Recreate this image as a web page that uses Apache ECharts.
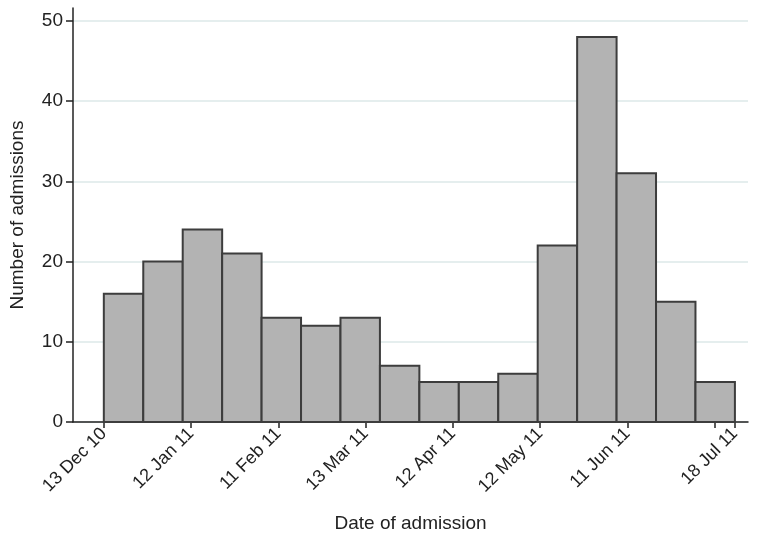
<!DOCTYPE html>
<html>
<head>
<meta charset="utf-8">
<script src="https://cdn.jsdelivr.net/npm/echarts@6/dist/echarts.min.js"></script>
<style>
html,body{margin:0;padding:0;background:#fff}
#main{width:757px;height:538px}
</style>
</head>
<body>
<div id="main"></div>
<script>
// admissions per bin, 16 bins from 13 Dec 10 to 18 Jul 11
var counts = [16, 20, 24, 21, 13, 12, 13, 7, 5, 5, 6, 22, 48, 31, 15, 5]
var startDay = 0
var binDays = 217 / 16
// days since 13 Dec 10
var labelDays = [0, 30, 60, 90, 120, 150, 180, 217]
var labelText = ["13 Dec 10", "12 Jan 11", "11 Feb 11", "13 Mar 11", "12 Apr 11", "12 May 11", "11 Jun 11", "18 Jul 11"]
var tickDays = [0, 30, 60, 90, 120, 150, 180, 210, 217]
var yTicks = [0, 10, 20, 30, 40, 50]

var bins = counts.map(function (c, i) { return [startDay + i * binDays, startDay + (i + 1) * binDays, c] })

var myChart = echarts.init(document.getElementById("main"))
var font = "Liberation Sans, Arial, sans-serif"
var option = {
    animation: false,
    grid: { left: 73, right: 9, top: 8, bottom: 116, containLabel: false, outerBoundsMode: 'none' },
    xAxis: {
        type: 'value',
        min: -10.6,
        max: 221.5,
        name: 'Date of admission',
        nameLocation: 'middle',
        nameGap: 92,
        nameTextStyle: { fontFamily: font, fontSize: 19, color: '#222' },
        axisLine: { show: true, onZero: false, lineStyle: { color: '#222', width: 1.5 } },
        axisTick: { show: true, length: 6, lineStyle: { color: '#222', width: 1.5 }, customValues: tickDays },
        axisLabel: {
            customValues: labelDays,
            rotate: 45,
            margin: 9,
            fontFamily: font,
            fontSize: 18,
            color: '#222',
            formatter: function (v) {
                var i = labelDays.indexOf(v)
                return i >= 0 ? labelText[i] : ''
            }
        },
        splitLine: { show: false }
    },
    yAxis: {
        type: 'value',
        min: 0,
        max: 51.6,
        name: 'Number of admissions',
        nameLocation: 'middle',
        nameGap: 46,
        nameTextStyle: { fontFamily: font, fontSize: 19, color: '#222' },
        axisLine: { show: true, onZero: false, lineStyle: { color: '#222', width: 1.5 } },
        axisTick: { show: true, length: 7, lineStyle: { color: '#222', width: 1.5 }, customValues: yTicks },
        axisLabel: { customValues: yTicks, margin: 10, fontFamily: font, fontSize: 19, color: '#222' },
        splitLine: { show: true, lineStyle: { color: '#dde9e8', width: 1.5 } }
    },
    series: [{
        type: 'custom',
        data: bins,
        encode: { x: [0, 1], y: 2 },
        renderItem: function (params, api) {
            var p0 = api.coord([api.value(0), api.value(2)])
            var p1 = api.coord([api.value(1), 0])
            return {
                type: 'rect',
                shape: { x: p0[0], y: p0[1], width: p1[0] - p0[0], height: p1[1] - p0[1] },
                style: { fill: '#b3b3b3', stroke: '#3d3d3d', lineWidth: 2 }
            }
        }
    }]
}
myChart.setOption(option)
</script>
</body>
</html>
